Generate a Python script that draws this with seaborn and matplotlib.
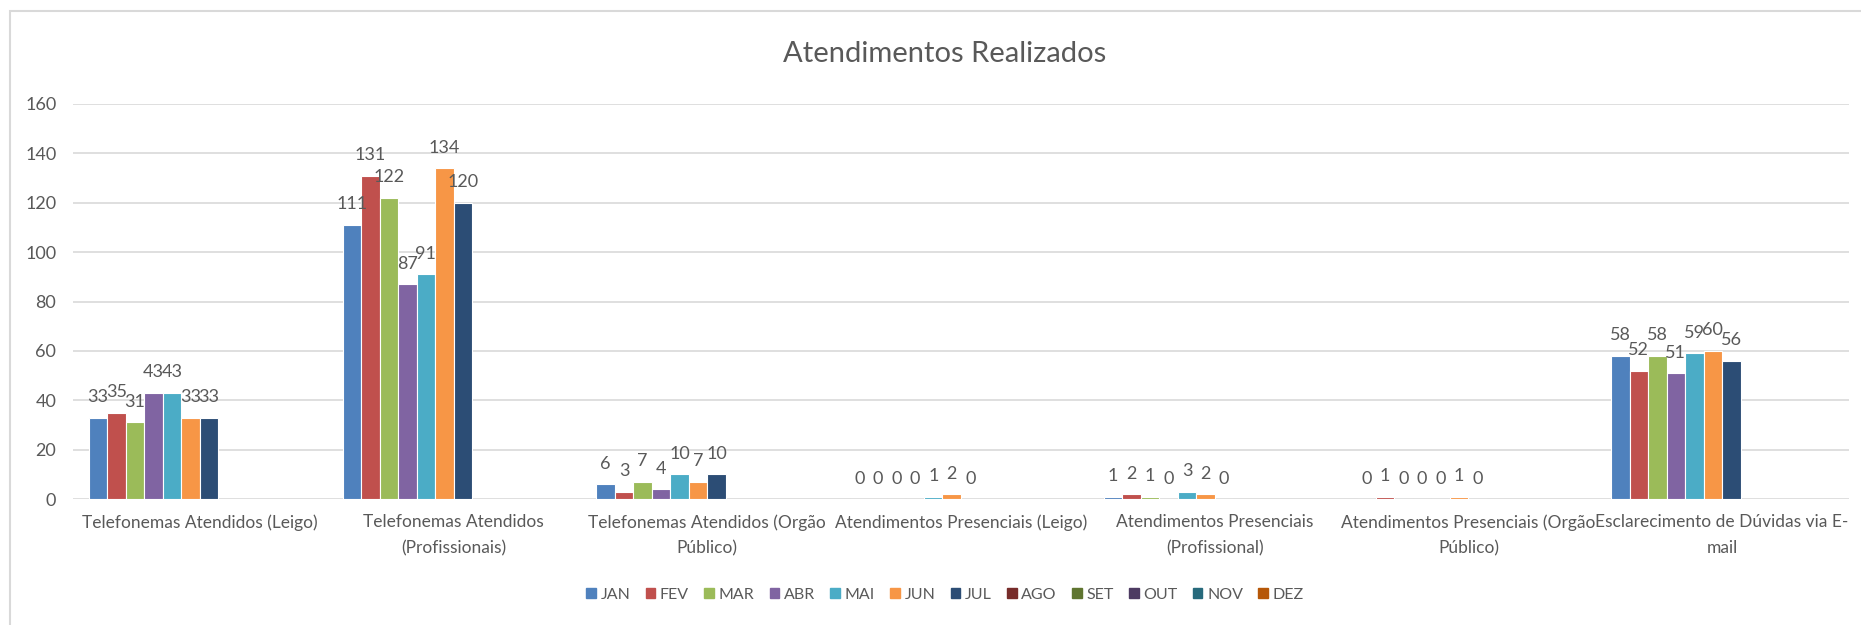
import pandas as pd
import numpy as np
import seaborn as sns
import matplotlib.pyplot as plt
import matplotlib.patches as mpat

categorias = [
    'Telefonemas Atendidos (Leigo)',
    'Telefonemas Atendidos\n(Profissionais)',
    'Telefonemas Atendidos (Orgão\nPúblico)',
    'Atendimentos Presenciais (Leigo)',
    'Atendimentos Presenciais\n(Profissional)',
    'Atendimentos Presenciais (Orgão\nPúblico)',
    'Esclarecimento de Dúvidas via E-\nmail',
]
meses = ['JAN', 'FEV', 'MAR', 'ABR', 'MAI', 'JUN', 'JUL', 'AGO', 'SET', 'OUT', 'NOV', 'DEZ']

jan = [33, 111, 6, 0, 1, 0, 58]
fev = [35, 131, 3, 0, 2, 1, 52]
mar = [31, 122, 7, 0, 1, 0, 58]
abr = [43, 87, 4, 0, 0, 0, 51]
mai = [43, 91, 10, 1, 3, 0, 59]
jun = [33, 134, 7, 2, 2, 1, 60]
jul = [33, 120, 10, 0, 0, 0, 56]

cores = ['#4F81BD', '#C0504D', '#9BBB59', '#8064A2', '#4BACC6', '#F79646',
         '#2C4D75', '#772C2A', '#5F7530', '#4D3B62', '#276A7C', '#B65708']
cinza = '#595959'

series = [jan, fev, mar, abr, mai, jun, jul]
linhas = []
for mes, vals in zip(meses, series):
    for cat, v in zip(categorias, vals):
        linhas.append({'categoria': cat, 'mes': mes, 'valor': v})
df = pd.DataFrame(linhas)

sns.set_style('white')
plt.rcParams['font.family'] = ['Lato', 'DejaVu Sans']

fig = plt.figure(figsize=(18.61, 6.25), dpi=100)
ax = fig.add_axes([73/1861, 1-499/625, (1849-73)/1861, (499-104)/625])

sns.barplot(data=df, x='categoria', y='valor', hue='mes', order=categorias,
            hue_order=meses, palette=cores, width=0.875, dodge=True,
            edgecolor='white', linewidth=0.8, legend=False, errorbar=None,
            saturation=1, ax=ax)

for cont in ax.containers:
    ax.bar_label(cont, fmt='%g', padding=9, fontsize=13, color=cinza)

ax.set_ylim(0, 160)
ax.set_xlim(-0.5, len(categorias) - 0.5)
ax.set_yticks(range(0, 161, 20))
ax.yaxis.grid(True, color='#D9D9D9', linewidth=1.2)
ax.set_axisbelow(True)
for s in ax.spines.values():
    s.set_visible(False)
ax.tick_params(axis='both', length=0, labelsize=13, labelcolor=cinza)
ax.tick_params(axis='y', pad=12)
ax.tick_params(axis='x', pad=11, labelsize=12.5)
for t in ax.get_xticklabels():
    t.set_linespacing(1.75)
ax.set_xlabel('')
ax.set_ylabel('')

fig.text(945/1861, 1-54/625, 'Atendimentos Realizados', ha='center', va='center',
         fontsize=21, color=cinza)

handles = [mpat.Patch(color=c, label=m) for m, c in zip(meses, cores)]
fig.legend(handles=handles, loc='center', bbox_to_anchor=(945/1861, 1-595/625),
           ncol=12, frameon=False, fontsize=11.5, labelcolor=cinza,
           handlelength=0.6, handleheight=0.6, handletextpad=0.3, columnspacing=0.95)

# borda cinza do grafico
fig.patches.append(mpat.Rectangle((10/1861, -0.1), 1.2, 1-11/625+0.1,
                                  transform=fig.transFigure, fill=False,
                                  edgecolor='#D9D9D9', linewidth=1.5))

fig.savefig('out.png', dpi=100)
